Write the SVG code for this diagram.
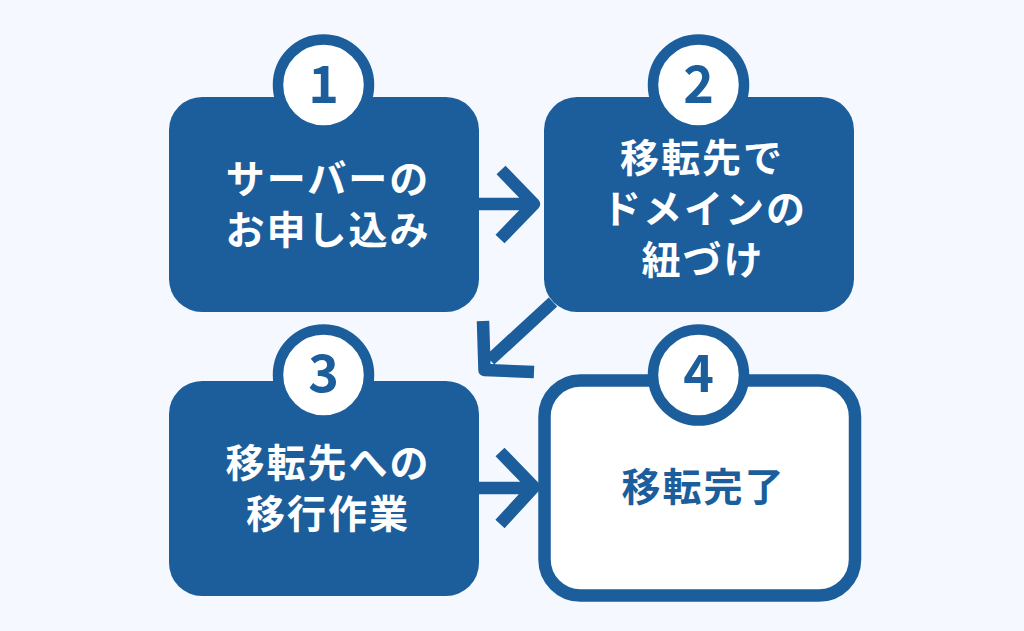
<svg xmlns="http://www.w3.org/2000/svg" width="1024" height="631" viewBox="0 0 1024 631">
<style>
.box{fill:#1c5e9c}
.t{font-family:"Noto Sans CJK JP","Noto Sans",sans-serif;font-weight:700;font-size:39px;letter-spacing:2px;text-anchor:middle;fill:#fff}
.n{font-family:"Noto Sans CJK JP","Noto Sans",sans-serif;font-weight:700;font-size:52px;text-anchor:middle;fill:#1c5e9c}
.c{fill:#fff;stroke:#1c5e9c;stroke-width:10.5}
.l{fill:none;stroke:#1c5e9c;stroke-width:12.5;stroke-linejoin:round}
</style>
<rect width="1024" height="631" fill="#f5f9ff"/>
<g id="connectors">
<path class="l" d="M479 204H530M501 170L534 204L500 239"/>
<path class="l" d="M553 302L490 360M483 321L484.5 370L534 372"/>
<path class="l" d="M479 488H530M500 452L534 487L500 524"/>
</g>
<g id="node1"><rect class="box" x="169" y="97" width="310" height="215" rx="33"/><circle class="c" cx="323.5" cy="85" r="45.5"/><text class="n" x="323.5" y="103">1</text><text class="t" x="328" y="193">サーバーの</text><text class="t" x="328" y="244">お申し込み</text></g>
<g id="node2"><rect class="box" x="544" y="97" width="310" height="215" rx="33"/><circle class="c" cx="698.5" cy="85" r="45.5"/><text class="n" x="698.5" y="103">2</text><text class="t" x="702" y="172">移転先で</text><text class="t" x="704.500" y="223">ドメインの</text><text class="t" x="703" y="274">紐づけ</text></g>
<g id="node3"><rect class="box" x="169" y="381" width="310" height="215" rx="33"/><circle class="c" cx="323.5" cy="375" r="45.5"/><text class="n" x="323.5" y="392">3</text><text class="t" x="328" y="477">移転先への</text><text class="t" x="328" y="528">移行作業</text></g>
<g id="node4"><rect x="544.5" y="380.5" width="310.5" height="215" rx="36" fill="#fff" stroke="#1c5e9c" stroke-width="12.5"/><circle class="c" cx="698.5" cy="375" r="45.5"/><text class="n" x="698.5" y="392">4</text><text class="t" x="703.500" y="501" style="fill:#1c5e9c">移転完了</text></g>
</svg>
